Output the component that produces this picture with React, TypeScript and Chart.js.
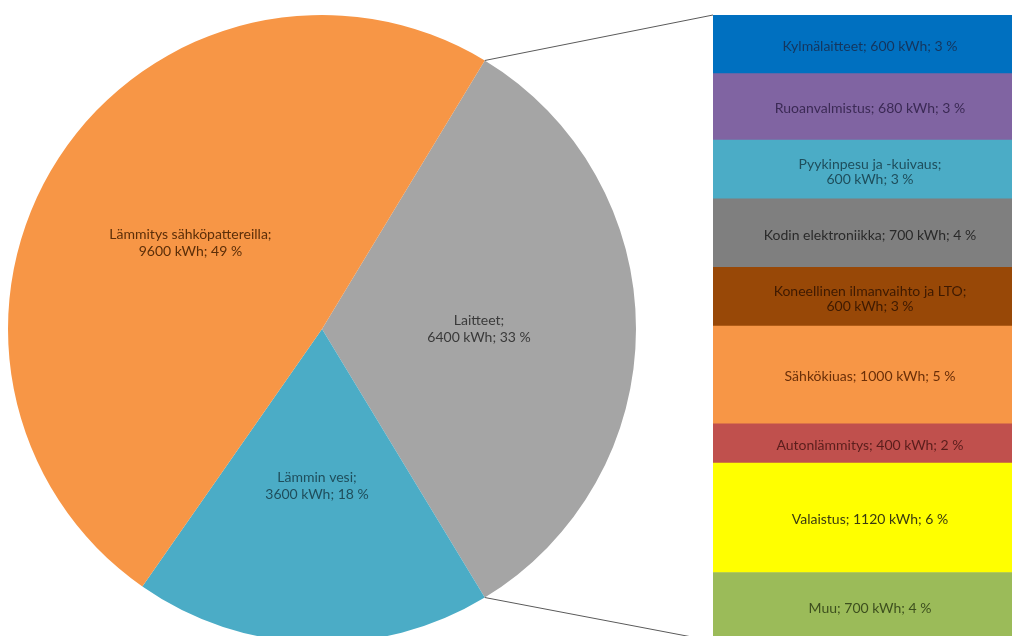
import React, { useEffect, useRef } from "react";
import { Chart, registerables } from "chart.js";

Chart.register(...registerables);

// ---- Data ----
const pieLabels = ["Laitteet", "Lämmin vesi", "Lämmitys sähköpattereilla"];
const pieValues = [6400, 3600, 9600];
const piePercents = [33, 18, 49];
const pieColors = ["#A5A5A5", "#4BACC6", "#F79646"];
const pieTextColors = ["#3A3A3A", "#1F4E5C", "#5C2E08"];

// top to bottom
const barLabels = [
  "Kylmälaitteet",
  "Ruoanvalmistus",
  "Pyykinpesu ja -kuivaus",
  "Kodin elektroniikka",
  "Koneellinen ilmanvaihto ja LTO",
  "Sähkökiuas",
  "Autonlämmitys",
  "Valaistus",
  "Muu",
];
const barValues = [600, 680, 600, 700, 600, 1000, 400, 1120, 700];
const barPercents = [3, 3, 3, 4, 3, 5, 2, 6, 4];
const barWrap = [false, false, true, false, true, false, false, false, false];
const barColors = [
  "#0070C0",
  "#8064A2",
  "#4BACC6",
  "#7F7F7F",
  "#984807",
  "#F79646",
  "#C0504D",
  "#FFFF00",
  "#9BBB59",
];
const barTextColors = [
  "#14365E",
  "#3B2A55",
  "#1E4E5C",
  "#2A2A2A",
  "#3E1A02",
  "#6B2F08",
  "#5A1E1C",
  "#3A3A10",
  "#3D4F1E",
];

const FONT = "Lato, 'Liberation Sans', sans-serif";
const CANVAS_W = 1030;
const CANVAS_H = 664;

function labelLines(name: string, value: number, pct: number, wrap: boolean): string[] {
  const tail = `${value} kWh; ${pct} %`;
  return wrap ? [`${name};`, tail] : [`${name}; ${tail}`];
}

function drawLines(ctx: CanvasRenderingContext2D, lines: string[], x: number, y: number, lh: number) {
  const n = lines.length;
  lines.forEach((l, i) => {
    ctx.fillText(l, x, y + (i - (n - 1) / 2) * lh);
  });
}

export default function App() {
  const pieRef = useRef<HTMLCanvasElement>(null);
  const barRef = useRef<HTMLCanvasElement>(null);

  useEffect(() => {
    const total = pieValues.reduce((a, b) => a + b, 0);
    const rotation = 90 - (pieValues[0] / total) * 360 / 2;
    const barTotal = barValues.reduce((a, b) => a + b, 0);

    // stacked bar: first dataset at bottom, so reverse
    const order = barLabels.map((_, i) => i).reverse();

    const barLabelPlugin = {
      id: "barLabels",
      afterDatasetsDraw(chart: any) {
        const ctx = chart.ctx;
        ctx.save();
        ctx.font = `14px ${FONT}`;
        ctx.textAlign = "center";
        ctx.textBaseline = "middle";
        chart.data.datasets.forEach((ds: any, di: number) => {
          const idx = ds._idx;
          const el = chart.getDatasetMeta(di).data[0];
          const { x, y, base } = el.getProps(["x", "y", "base"], true);
          ctx.fillStyle = barTextColors[idx];
          drawLines(
            ctx,
            labelLines(barLabels[idx], barValues[idx], barPercents[idx], barWrap[idx]),
            x,
            (y + base) / 2 + 2,
            15
          );
        });
        ctx.restore();
      },
    };

    const barChart = new Chart(barRef.current!, {
      type: "bar",
      data: {
        labels: [""],
        datasets: order.map((i) => ({
          label: barLabels[i],
          data: [barValues[i]],
          backgroundColor: barColors[i],
          borderWidth: 0,
          categoryPercentage: 1,
          barPercentage: 1,
          _idx: i,
        })) as any,
      },
      options: {
        responsive: false,
        animation: false,
        layout: { padding: { left: 713, right: 3, top: 15, bottom: 23 } },
        plugins: { legend: { display: false }, tooltip: { enabled: false } },
        scales: {
          x: { stacked: true, display: false },
          y: { stacked: true, display: false, min: 0, max: barTotal },
        },
      },
      plugins: [barLabelPlugin],
    });

    const pieLabelPlugin = {
      id: "pieLabels",
      afterDatasetsDraw(chart: any) {
        const ctx = chart.ctx;
        const meta = chart.getDatasetMeta(0);
        ctx.save();
        // connector lines from split slice to bar
        const arc = meta.data[0];
        const { x, y, startAngle, endAngle, outerRadius } = arc.getProps(
          ["x", "y", "startAngle", "endAngle", "outerRadius"],
          true
        );
        const area = barChart.chartArea;
        ctx.strokeStyle = "#5A5A5A";
        ctx.lineWidth = 1;
        ctx.beginPath();
        ctx.moveTo(x + outerRadius * Math.cos(startAngle), y + outerRadius * Math.sin(startAngle));
        ctx.lineTo(area.left, area.top);
        ctx.moveTo(x + outerRadius * Math.cos(endAngle), y + outerRadius * Math.sin(endAngle));
        ctx.lineTo(area.left, area.bottom);
        ctx.stroke();

        ctx.font = `14px ${FONT}`;
        ctx.textAlign = "center";
        ctx.textBaseline = "middle";
        meta.data.forEach((el: any, i: number) => {
          const p = el.tooltipPosition(true);
          ctx.fillStyle = pieTextColors[i];
          drawLines(ctx, labelLines(pieLabels[i], pieValues[i], piePercents[i], true), p.x, p.y, 17);
        });
        ctx.restore();
      },
    };

    const pieChart = new Chart(pieRef.current!, {
      type: "pie",
      data: {
        labels: pieLabels,
        datasets: [
          {
            data: pieValues,
            backgroundColor: pieColors,
            borderWidth: 0,
          },
        ],
      },
      options: {
        responsive: false,
        animation: false,
        rotation,
        radius: 314,
        layout: { padding: { left: 0, right: CANVAS_W - 644, top: 0, bottom: 6 } },
        plugins: { legend: { display: false }, tooltip: { enabled: false } },
      },
      plugins: [pieLabelPlugin],
    });

    return () => {
      pieChart.destroy();
      barChart.destroy();
    };
  }, []);

  const canvasStyle: React.CSSProperties = {
    position: "absolute",
    left: 0,
    top: 0,
    width: CANVAS_W,
    height: CANVAS_H,
  };

  return (
    <div
      style={{
        position: "fixed",
        left: 0,
        top: 0,
        width: 1012,
        height: 636,
        overflow: "hidden",
        background: "#FFFFFF",
      }}
    >
      <canvas ref={pieRef} width={CANVAS_W} height={CANVAS_H} style={canvasStyle} />
      <canvas ref={barRef} width={CANVAS_W} height={CANVAS_H} style={canvasStyle} />
    </div>
  );
}
